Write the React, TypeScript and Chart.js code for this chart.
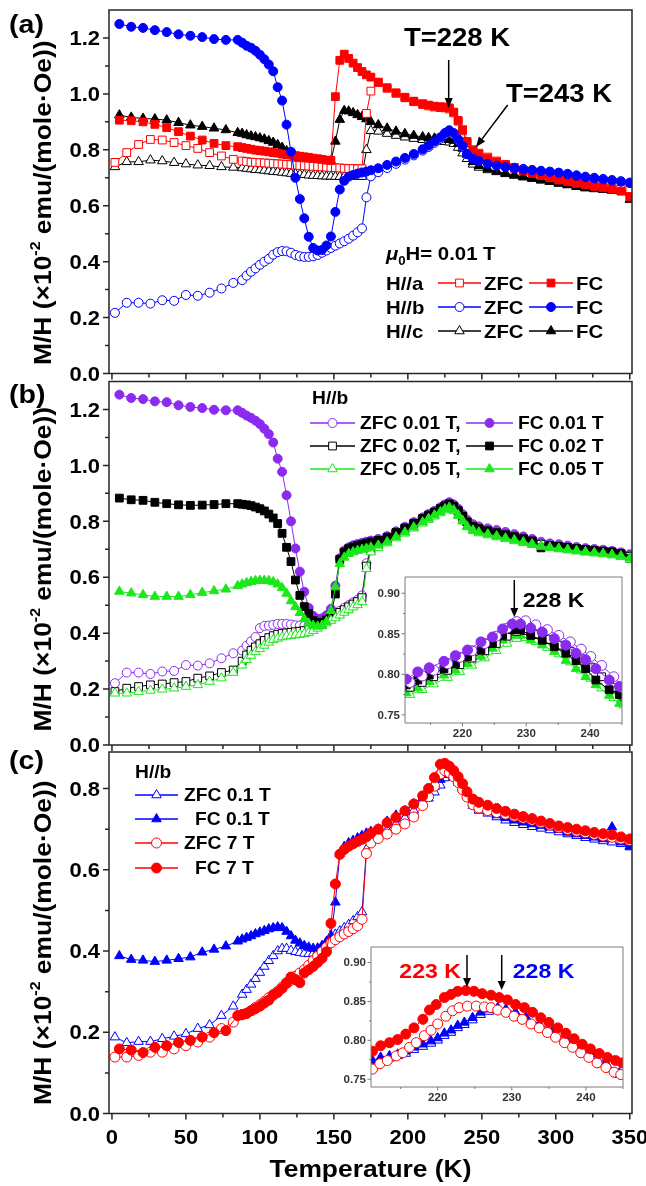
import React, { useEffect, useRef } from 'react';
import { Chart, registerables } from 'chart.js';

Chart.register(...registerables);

// ---------------- DATA ----------------
// temperature grids (K)
const T_LOW_ZFC = [2, 10, 18, 26, 34, 42, 50, 58, 66, 74, 82];
const T_LOW_FC = [5, 13, 21, 29, 37, 45, 53, 61, 69, 77, 85];
const T_REST = [88, 91, 94, 97, 100, 103, 106, 109, 112, 115, 118, 121, 124, 127, 130, 133, 136, 139, 142, 145,
  148, 151, 154, 157, 160, 163, 166, 169, 172, 175,
  180, 186, 192, 198, 204, 210, 214, 218, 222, 225, 228, 231, 234, 237, 240, 244, 248, 254, 260, 266,
  272, 278, 284, 290, 296, 302, 308, 314, 320, 326, 332, 338, 344, 350];

// Panel (a): mu0H = 0.01 T, H//a, H//b, H//c
const A_ZFC = [0.755, 0.790, 0.819, 0.837, 0.835, 0.826, 0.815, 0.805, 0.790, 0.778, 0.766,
  0.760, 0.758, 0.756, 0.755, 0.754, 0.753, 0.752, 0.751, 0.750, 0.749, 0.748, 0.747, 0.745, 0.744, 0.743, 0.742, 0.741, 0.740, 0.739, 0.738,
  0.737, 0.736, 0.735, 0.734, 0.733, 0.733, 0.732, 0.732, 0.930, 1.010,
  1.040, 1.020, 1.002, 0.986, 0.972, 0.962, 0.957, 0.953, 0.951, 0.950, 0.946, 0.932, 0.902, 0.868, 0.826, 0.800, 0.788, 0.774, 0.760, 0.748,
  0.737, 0.727, 0.719, 0.710, 0.703, 0.696, 0.690, 0.684, 0.679, 0.673, 0.668, 0.663, 0.659, 0.655];
const A_FC = [0.906, 0.904, 0.900, 0.891, 0.879, 0.865, 0.849, 0.835, 0.823, 0.815, 0.811,
  0.808, 0.805, 0.802, 0.799, 0.797, 0.795, 0.793, 0.790, 0.788, 0.785, 0.783, 0.781, 0.779, 0.777, 0.775, 0.773, 0.770, 0.768, 0.766, 0.763,
  0.762, 0.990, 1.120, 1.142, 1.127, 1.110, 1.094, 1.080, 1.068, 1.060,
  1.042, 1.022, 1.004, 0.988, 0.974, 0.965, 0.960, 0.956, 0.954, 0.953, 0.950, 0.935, 0.905, 0.872, 0.830, 0.799, 0.785, 0.770, 0.757, 0.744,
  0.734, 0.724, 0.716, 0.708, 0.700, 0.692, 0.686, 0.680, 0.675, 0.669, 0.664, 0.659, 0.652, 0.633];
const B_ZFC = [0.217, 0.253, 0.253, 0.250, 0.262, 0.260, 0.281, 0.278, 0.289, 0.304, 0.324,
  0.334, 0.350, 0.364, 0.376, 0.389, 0.400, 0.410, 0.425, 0.434, 0.438, 0.437, 0.432, 0.424, 0.419, 0.417, 0.417, 0.419, 0.424, 0.432, 0.440,
  0.449, 0.457, 0.465, 0.473, 0.482, 0.493, 0.505, 0.519, 0.630, 0.705,
  0.720, 0.735, 0.750, 0.765, 0.780, 0.797, 0.810, 0.825, 0.840, 0.855, 0.865, 0.855, 0.835, 0.812, 0.784, 0.770, 0.763, 0.754, 0.747, 0.741,
  0.736, 0.732, 0.728, 0.725, 0.722, 0.718, 0.714, 0.709, 0.704, 0.700, 0.696, 0.692, 0.688, 0.683];
const B_FC = [1.250, 1.240, 1.236, 1.228, 1.221, 1.213, 1.208, 1.203, 1.196, 1.193, 1.193,
  1.183, 1.172, 1.165, 1.154, 1.140, 1.124, 1.105, 1.081, 1.024, 0.976, 0.890, 0.793, 0.700, 0.624, 0.555, 0.489, 0.449, 0.440, 0.442, 0.458,
  0.490, 0.578, 0.658, 0.689, 0.704, 0.710, 0.715, 0.719, 0.722, 0.727,
  0.734, 0.746, 0.758, 0.771, 0.785, 0.802, 0.815, 0.830, 0.845, 0.860, 0.870, 0.860, 0.838, 0.815, 0.785, 0.768, 0.760, 0.750, 0.743, 0.738,
  0.734, 0.730, 0.727, 0.724, 0.721, 0.718, 0.713, 0.707, 0.702, 0.698, 0.694, 0.690, 0.686, 0.681];
const C_ZFC = [0.739, 0.757, 0.757, 0.763, 0.760, 0.754, 0.749, 0.745, 0.743, 0.739, 0.737,
  0.735, 0.733, 0.731, 0.729, 0.728, 0.726, 0.724, 0.722, 0.721, 0.719, 0.717, 0.715, 0.714, 0.712, 0.711, 0.709, 0.708, 0.707, 0.706, 0.705,
  0.705, 0.704, 0.704, 0.704, 0.704, 0.704, 0.704, 0.704, 0.800, 0.868,
  0.866, 0.858, 0.851, 0.845, 0.840, 0.836, 0.834, 0.832, 0.830, 0.829, 0.827, 0.822, 0.808, 0.788, 0.768, 0.748, 0.737, 0.728, 0.721, 0.714,
  0.708, 0.702, 0.697, 0.691, 0.686, 0.680, 0.675, 0.669, 0.664, 0.660, 0.657, 0.654, 0.660, 0.648];
const C_FC = [0.924, 0.916, 0.912, 0.910, 0.906, 0.897, 0.888, 0.883, 0.877, 0.871, 0.861,
  0.858, 0.853, 0.849, 0.846, 0.842, 0.838, 0.832, 0.826, 0.818, 0.808, 0.796, 0.783, 0.774, 0.770, 0.767, 0.765, 0.763, 0.760, 0.758, 0.756,
  0.760, 0.830, 0.908, 0.940, 0.938, 0.932, 0.925, 0.918, 0.910, 0.900,
  0.889, 0.877, 0.866, 0.857, 0.851, 0.846, 0.843, 0.841, 0.840, 0.838, 0.836, 0.833, 0.822, 0.805, 0.783, 0.757, 0.743, 0.732, 0.723, 0.716,
  0.710, 0.704, 0.698, 0.692, 0.686, 0.680, 0.674, 0.668, 0.663, 0.662, 0.660, 0.657, 0.655, 0.622];

// Panel (b): H//b, 0.01 T / 0.02 T / 0.05 T
const P1_ZFC = [0.221, 0.259, 0.259, 0.254, 0.263, 0.265, 0.286, 0.284, 0.292, 0.310, 0.328,
  0.338, 0.355, 0.371, 0.386, 0.418, 0.426, 0.427, 0.430, 0.433, 0.433, 0.433, 0.431, 0.428, 0.427, 0.426, 0.429, 0.435, 0.444, 0.450, 0.455,
  0.464, 0.472, 0.480, 0.491, 0.500, 0.510, 0.519, 0.535, 0.650, 0.705,
  0.720, 0.740, 0.758, 0.776, 0.793, 0.811, 0.823, 0.835, 0.848, 0.858, 0.866, 0.860, 0.845, 0.826, 0.806, 0.790, 0.782, 0.775, 0.769, 0.762,
  0.754, 0.746, 0.737, 0.727, 0.721, 0.718, 0.713, 0.708, 0.704, 0.701, 0.698, 0.694, 0.689, 0.682];
const P1_FC = [1.253, 1.241, 1.237, 1.229, 1.226, 1.215, 1.209, 1.205, 1.199, 1.197, 1.197,
  1.188, 1.178, 1.170, 1.160, 1.148, 1.131, 1.112, 1.082, 1.024, 0.977, 0.893, 0.800, 0.703, 0.620, 0.548, 0.490, 0.462, 0.451, 0.453, 0.464,
  0.487, 0.570, 0.668, 0.695, 0.707, 0.714, 0.719, 0.723, 0.727, 0.731,
  0.737, 0.747, 0.764, 0.780, 0.797, 0.814, 0.826, 0.837, 0.850, 0.860, 0.868, 0.859, 0.843, 0.823, 0.803, 0.787, 0.779, 0.772, 0.766, 0.760,
  0.752, 0.744, 0.735, 0.724, 0.719, 0.716, 0.711, 0.706, 0.702, 0.699, 0.696, 0.692, 0.687, 0.680];
const P2_ZFC = [0.191, 0.203, 0.209, 0.215, 0.218, 0.223, 0.227, 0.239, 0.247, 0.259, 0.268,
  0.300, 0.322, 0.338, 0.351, 0.362, 0.374, 0.384, 0.391, 0.396, 0.399, 0.401, 0.403, 0.405, 0.407, 0.409, 0.413, 0.420, 0.429, 0.438, 0.447,
  0.456, 0.465, 0.474, 0.484, 0.494, 0.504, 0.513, 0.527, 0.640, 0.698,
  0.714, 0.735, 0.754, 0.772, 0.789, 0.806, 0.818, 0.830, 0.842, 0.852, 0.859, 0.851, 0.836, 0.817, 0.797, 0.781, 0.774, 0.766, 0.759, 0.752,
  0.745, 0.738, 0.730, 0.718, 0.713, 0.710, 0.706, 0.702, 0.699, 0.696, 0.693, 0.690, 0.685, 0.675];
const P2_FC = [0.883, 0.877, 0.875, 0.868, 0.863, 0.859, 0.857, 0.858, 0.860, 0.863, 0.863,
  0.861, 0.859, 0.856, 0.851, 0.845, 0.837, 0.826, 0.812, 0.792, 0.757, 0.707, 0.656, 0.590, 0.535, 0.495, 0.470, 0.445, 0.437, 0.437, 0.446,
  0.466, 0.540, 0.664, 0.690, 0.702, 0.708, 0.713, 0.717, 0.722, 0.726,
  0.732, 0.743, 0.760, 0.776, 0.793, 0.810, 0.822, 0.833, 0.845, 0.855, 0.862, 0.853, 0.838, 0.818, 0.797, 0.780, 0.772, 0.765, 0.758, 0.751,
  0.744, 0.736, 0.728, 0.705, 0.712, 0.710, 0.706, 0.702, 0.699, 0.696, 0.693, 0.690, 0.684, 0.668];
const P3_ZFC = [0.185, 0.185, 0.191, 0.195, 0.199, 0.203, 0.209, 0.215, 0.227, 0.239, 0.259,
  0.285, 0.305, 0.320, 0.333, 0.344, 0.356, 0.367, 0.376, 0.381, 0.386, 0.389, 0.391, 0.393, 0.395, 0.397, 0.402, 0.409, 0.417, 0.426, 0.436,
  0.445, 0.454, 0.464, 0.474, 0.483, 0.493, 0.501, 0.512, 0.630, 0.690,
  0.705, 0.722, 0.740, 0.757, 0.775, 0.793, 0.806, 0.818, 0.830, 0.840, 0.846, 0.837, 0.820, 0.800, 0.780, 0.766, 0.758, 0.751, 0.744, 0.737,
  0.730, 0.723, 0.716, 0.710, 0.705, 0.701, 0.697, 0.693, 0.689, 0.686, 0.683, 0.679, 0.673, 0.664];
const P3_FC = [0.549, 0.543, 0.537, 0.531, 0.531, 0.531, 0.537, 0.545, 0.551, 0.557, 0.569,
  0.575, 0.580, 0.584, 0.587, 0.588, 0.588, 0.587, 0.583, 0.575, 0.562, 0.542, 0.515, 0.494, 0.473, 0.451, 0.435, 0.427, 0.424, 0.427, 0.441,
  0.480, 0.565, 0.648, 0.671, 0.684, 0.690, 0.695, 0.699, 0.703, 0.707,
  0.714, 0.726, 0.744, 0.761, 0.779, 0.797, 0.810, 0.822, 0.834, 0.844, 0.850, 0.840, 0.823, 0.803, 0.782, 0.768, 0.761, 0.754, 0.747, 0.740,
  0.733, 0.726, 0.719, 0.712, 0.707, 0.703, 0.699, 0.695, 0.691, 0.688, 0.685, 0.681, 0.676, 0.668];

// Panel (c): H//b, 0.1 T / 7 T
const Q1_ZFC = [0.188, 0.174, 0.177, 0.177, 0.184, 0.190, 0.196, 0.209, 0.218, 0.241, 0.264,
  0.293, 0.305, 0.318, 0.332, 0.347, 0.362, 0.376, 0.388, 0.400, 0.406, 0.406, 0.401, 0.398, 0.396, 0.394, 0.393, 0.394, 0.399, 0.410, 0.423,
  0.432, 0.441, 0.449, 0.457, 0.465, 0.474, 0.484, 0.496, 0.650, 0.670,
  0.682, 0.698, 0.713, 0.728, 0.746, 0.764, 0.776, 0.791, 0.808, 0.826, 0.836, 0.828, 0.815, 0.799, 0.783, 0.758, 0.746, 0.739, 0.730, 0.722,
  0.716, 0.711, 0.706, 0.702, 0.698, 0.693, 0.688, 0.684, 0.679, 0.675, 0.671, 0.668, 0.664, 0.658];
const Q1_FC = [0.388, 0.379, 0.377, 0.374, 0.377, 0.381, 0.385, 0.397, 0.404, 0.412, 0.424,
  0.429, 0.433, 0.437, 0.442, 0.446, 0.450, 0.454, 0.457, 0.459, 0.457, 0.448, 0.437, 0.426, 0.419, 0.413, 0.409, 0.406, 0.407, 0.413, 0.422,
  0.438, 0.520, 0.640, 0.657, 0.666, 0.672, 0.678, 0.684, 0.690, 0.694,
  0.700, 0.719, 0.734, 0.745, 0.762, 0.777, 0.790, 0.804, 0.822, 0.834, 0.840, 0.832, 0.819, 0.803, 0.787, 0.762, 0.752, 0.745, 0.735, 0.728,
  0.722, 0.717, 0.713, 0.709, 0.705, 0.699, 0.692, 0.688, 0.684, 0.680, 0.676, 0.705, 0.668, 0.656];
const Q2_ZFC = [0.139, 0.139, 0.143, 0.151, 0.151, 0.159, 0.167, 0.176, 0.188, 0.209, 0.225,
  0.243, 0.247, 0.253, 0.261, 0.268, 0.276, 0.285, 0.293, 0.301, 0.311, 0.320, 0.328, 0.338, 0.346, 0.354, 0.365, 0.376, 0.387, 0.398, 0.409,
  0.420, 0.428, 0.435, 0.442, 0.448, 0.455, 0.462, 0.478, 0.640, 0.666,
  0.677, 0.688, 0.700, 0.713, 0.730, 0.758, 0.780, 0.806, 0.836, 0.844, 0.839, 0.829, 0.815, 0.797, 0.779, 0.760, 0.752, 0.746, 0.741, 0.737,
  0.732, 0.727, 0.722, 0.716, 0.710, 0.704, 0.699, 0.695, 0.691, 0.687, 0.683, 0.680, 0.676, 0.672];
const Q2_FC = [0.159, 0.156, 0.150, 0.163, 0.167, 0.175, 0.180, 0.188, 0.199, 0.204, 0.241,
  0.244, 0.246, 0.253, 0.258, 0.264, 0.272, 0.279, 0.291, 0.298, 0.308, 0.322, 0.336, 0.330, 0.322, 0.346, 0.354, 0.362, 0.372, 0.382, 0.398,
  0.468, 0.565, 0.638, 0.650, 0.658, 0.664, 0.670, 0.675, 0.681, 0.690,
  0.700, 0.716, 0.729, 0.745, 0.762, 0.782, 0.800, 0.827, 0.860, 0.862, 0.855, 0.844, 0.829, 0.812, 0.792, 0.774, 0.766, 0.759, 0.751, 0.744,
  0.737, 0.731, 0.726, 0.720, 0.714, 0.708, 0.704, 0.700, 0.696, 0.692, 0.689, 0.686, 0.681, 0.676];

// Inset of panel (b)
const TB_FC = [211.2, 213.0, 214.8, 217.1, 218.9, 220.8, 222.9, 224.7, 226.3, 227.8, 229.1, 230.7, 232.5, 234.4, 236.2, 237.8, 239.3, 240.9, 243.0, 244.6];
const TB_ZFC = [211.8, 213.7, 215.5, 217.7, 219.6, 221.5, 223.5, 225.3, 227.0, 228.5, 229.9, 231.5, 233.3, 235.1, 236.9, 238.6, 240.1, 241.8, 243.7, 245.3];
const IB_P1_FC = [0.794, 0.803, 0.808, 0.816, 0.823, 0.830, 0.840, 0.846, 0.856, 0.862, 0.862, 0.857, 0.852, 0.844, 0.836, 0.826, 0.818, 0.807, 0.793, 0.785];
const IB_P1_ZFC = [0.790, 0.798, 0.805, 0.813, 0.821, 0.829, 0.838, 0.847, 0.857, 0.865, 0.866, 0.861, 0.855, 0.848, 0.840, 0.831, 0.822, 0.811, 0.797, 0.783];
const IB_P2_FC = [0.787, 0.793, 0.799, 0.807, 0.813, 0.822, 0.830, 0.838, 0.848, 0.855, 0.855, 0.848, 0.842, 0.834, 0.826, 0.817, 0.807, 0.793, 0.781, 0.775];
const IB_P2_ZFC = [0.784, 0.790, 0.797, 0.805, 0.812, 0.820, 0.829, 0.838, 0.847, 0.853, 0.854, 0.849, 0.843, 0.836, 0.828, 0.819, 0.809, 0.797, 0.784, 0.773];
const IB_P3_FC = [0.777, 0.783, 0.791, 0.799, 0.805, 0.813, 0.822, 0.832, 0.842, 0.848, 0.848, 0.842, 0.836, 0.828, 0.817, 0.807, 0.797, 0.787, 0.774, 0.764];
const IB_P3_ZFC = [0.775, 0.781, 0.788, 0.796, 0.803, 0.811, 0.820, 0.829, 0.838, 0.844, 0.845, 0.840, 0.833, 0.825, 0.815, 0.805, 0.795, 0.783, 0.771, 0.762];

// Inset of panel (c)
const TC_RFC = [211.2, 212.3, 213.5, 214.6, 215.7, 216.8, 218.0, 218.9, 219.8, 220.9, 221.8, 222.7, 223.8, 224.9, 226.0, 227.2,
  228.3, 229.4, 230.5, 231.7, 232.8, 233.9, 235.0, 236.2, 237.3, 238.4, 239.5, 240.6, 241.8, 242.9, 244.0, 244.9];
const IC_RFC = [0.786, 0.793, 0.797, 0.801, 0.808, 0.816, 0.827, 0.839, 0.846, 0.855, 0.859, 0.863, 0.864, 0.863, 0.860, 0.858,
  0.855, 0.852, 0.846, 0.842, 0.836, 0.829, 0.823, 0.816, 0.809, 0.802, 0.795, 0.789, 0.783, 0.778, 0.774, 0.771];
const TC_RZFC = [211.2, 212.2, 213.2, 214.4, 215.3, 216.2, 217.1, 218.2, 219.1, 220.0, 221.1, 222.0, 222.9, 224.0, 225.2, 226.3, 227.2,
  228.1, 229.2, 230.3, 231.4, 232.6, 233.7, 234.8, 235.9, 237.1, 238.2, 239.3, 240.4, 241.5, 242.7, 243.8, 244.7];
const IC_RZFC = [0.763, 0.770, 0.774, 0.780, 0.784, 0.791, 0.797, 0.806, 0.813, 0.821, 0.831, 0.838, 0.842, 0.844, 0.844, 0.843, 0.842,
  0.839, 0.836, 0.831, 0.827, 0.821, 0.816, 0.810, 0.804, 0.797, 0.791, 0.784, 0.778, 0.771, 0.765, 0.759, 0.756];
const TC_B = [211.2, 212.3, 213.5, 214.6, 215.7, 216.8, 218.0, 219.1, 220.0, 220.9, 221.8, 222.7, 223.6, 224.7, 225.8, 226.9,
  228.1, 229.2, 230.5, 231.9, 233.7, 235.5, 237.3, 239.1, 240.9, 242.7, 244.5];
const IC_BFC = [0.774, 0.778, 0.780, 0.782, 0.786, 0.791, 0.795, 0.799, 0.803, 0.809, 0.813, 0.819, 0.823, 0.829, 0.836, 0.840,
  0.842, 0.840, 0.836, 0.830, 0.821, 0.812, 0.801, 0.792, 0.782, 0.771, 0.758];
const IC_BZFC = [0.771, 0.775, 0.777, 0.780, 0.783, 0.788, 0.792, 0.796, 0.800, 0.806, 0.810, 0.816, 0.820, 0.826, 0.833, 0.837,
  0.840, 0.838, 0.834, 0.828, 0.819, 0.810, 0.799, 0.790, 0.780, 0.769, 0.756];

// tick values
const X_MAJOR = [0, 50, 100, 150, 200, 250, 300, 350];
const X_MINOR = [25, 75, 125, 175, 225, 275, 325];
const Y_MAJOR_AB = [0, 0.2, 0.4, 0.6, 0.8, 1.0, 1.2];
const Y_MINOR_AB = [0.1, 0.3, 0.5, 0.7, 0.9, 1.1];
const Y_MAJOR_C = [0, 0.2, 0.4, 0.6, 0.8];
const Y_MINOR_C = [0.1, 0.3, 0.5, 0.7];
const IN_X_MAJOR = [220, 230, 240];
const IN_X_MINOR = [215, 225, 235, 245];
const IN_Y_MAJOR = [0.75, 0.8, 0.85, 0.9];
const IN_Y_MINOR = [0.775, 0.825, 0.875];

// ---------------- STYLE ----------------
const W = 646;
const H = 1186;
const SX = 1.1;
const FF = '"Liberation Sans", Arial, Helvetica, sans-serif';
const RED = '#FF0000';
const BLUE = '#0000FF';
const BLACK = '#000000';
const PURPLE = '#8B2BF0';
const GREEN = '#1BE81B';
const AXIS = '#262626';

type Mk = 'circle' | 'rect' | 'triangle';

const ZX = [...T_LOW_ZFC, ...T_REST];
const FX = [...T_LOW_FC, ...T_REST];

function ds(xs: number[], ys: number[], color: string, mk: Mk, filled: boolean, r: number) {
  return {
    data: xs.map((x, i) => ({ x, y: ys[i] })),
    borderColor: color,
    backgroundColor: filled ? color : '#FFFFFF',
    borderWidth: 1,
    pointStyle: mk,
    pointRadius: r,
    pointBorderWidth: 1,
    pointBorderColor: color,
    pointBackgroundColor: filled ? color : '#FFFFFF',
    tension: 0,
    fill: false,
  };
}

function font(size: number, italic = false) {
  return `${italic ? 'italic ' : ''}bold ${size}px ${FF}`;
}

type Seg = { t: string; size: number; dy?: number; italic?: boolean; color?: string };

function rich(ctx: CanvasRenderingContext2D, segs: Seg[], x: number, yc: number, align: 'left' | 'center' | 'right', rot = 0) {
  ctx.save();
  ctx.translate(x, yc);
  if (rot) ctx.rotate(rot);
  ctx.scale(SX, 1);
  ctx.textBaseline = 'alphabetic';
  ctx.textAlign = 'left';
  const base = segs[0].size * 0.36;
  let total = 0;
  const ws = segs.map((s) => {
    ctx.font = font(s.size, s.italic);
    const w = ctx.measureText(s.t).width;
    total += w;
    return w;
  });
  let cx = align === 'left' ? 0 : align === 'center' ? -total / 2 : -total;
  segs.forEach((s, i) => {
    ctx.font = font(s.size, s.italic);
    ctx.fillStyle = s.color || '#000';
    ctx.fillText(s.t, cx, base + (s.dy || 0));
    cx += ws[i];
  });
  ctx.restore();
}

function txt(ctx: CanvasRenderingContext2D, t: string, x: number, yc: number, size: number, align: 'left' | 'center' | 'right' = 'left', color = '#000') {
  rich(ctx, [{ t, size, color }], x, yc, align);
}

function marker(ctx: CanvasRenderingContext2D, x: number, y: number, mk: Mk, r: number, color: string, filled: boolean) {
  ctx.beginPath();
  if (mk === 'circle') ctx.arc(x, y, r, 0, Math.PI * 2);
  else if (mk === 'rect') {
    const s = r * Math.SQRT1_2;
    ctx.rect(x - s, y - s, 2 * s, 2 * s);
  } else {
    ctx.moveTo(x, y - r);
    ctx.lineTo(x + 0.866 * r, y + 0.5 * r);
    ctx.lineTo(x - 0.866 * r, y + 0.5 * r);
    ctx.closePath();
  }
  ctx.fillStyle = filled ? color : '#FFFFFF';
  ctx.fill();
  ctx.lineWidth = 1;
  ctx.strokeStyle = color;
  ctx.stroke();
}

function sample(ctx: CanvasRenderingContext2D, x1: number, x2: number, y: number, color: string, mk: Mk, filled: boolean, r: number) {
  ctx.save();
  ctx.strokeStyle = color;
  ctx.lineWidth = 1.5;
  ctx.beginPath();
  ctx.moveTo(x1, y);
  ctx.lineTo(x2, y);
  ctx.stroke();
  marker(ctx, (x1 + x2) / 2, y, mk, r, color, filled);
  ctx.restore();
}

function arrow(ctx: CanvasRenderingContext2D, x1: number, y1: number, x2: number, y2: number, color = '#000', head = 10, hw = 4) {
  const ang = Math.atan2(y2 - y1, x2 - x1);
  const c = Math.cos(ang);
  const s = Math.sin(ang);
  ctx.save();
  ctx.strokeStyle = color;
  ctx.fillStyle = color;
  ctx.lineWidth = 1.5;
  ctx.beginPath();
  ctx.moveTo(x1, y1);
  ctx.lineTo(x2 - c * head * 0.7, y2 - s * head * 0.7);
  ctx.stroke();
  ctx.beginPath();
  ctx.moveTo(x2, y2);
  ctx.lineTo(x2 - head * c + hw * s, y2 - head * s - hw * c);
  ctx.lineTo(x2 - head * c - hw * s, y2 - head * s + hw * c);
  ctx.closePath();
  ctx.fill();
  ctx.restore();
}

type AxOpts = {
  xMajor: number[]; xMinor: number[]; yMajor: number[]; yMinor: number[];
  xLabels: boolean; yDigits: number; size: number; maj: number; min: number;
  color: string; lw: number; labelColor: string; xDy: number; yDx: number;
};

function axes(chart: any, o: AxOpts) {
  const { ctx, chartArea: a } = chart;
  const xs = chart.scales.x;
  const ys = chart.scales.y;
  ctx.save();
  ctx.strokeStyle = o.color;
  ctx.lineWidth = o.lw;
  ctx.beginPath();
  ctx.rect(a.left, a.top, a.right - a.left, a.bottom - a.top);
  o.xMajor.forEach((v) => { const p = xs.getPixelForValue(v); ctx.moveTo(p, a.bottom); ctx.lineTo(p, a.bottom + o.maj); });
  o.xMinor.forEach((v) => { const p = xs.getPixelForValue(v); ctx.moveTo(p, a.bottom); ctx.lineTo(p, a.bottom + o.min); });
  o.yMajor.forEach((v) => { const p = ys.getPixelForValue(v); ctx.moveTo(a.left, p); ctx.lineTo(a.left - o.maj, p); });
  o.yMinor.forEach((v) => { const p = ys.getPixelForValue(v); ctx.moveTo(a.left, p); ctx.lineTo(a.left - o.min, p); });
  ctx.stroke();
  if (o.xLabels) o.xMajor.forEach((v) => txt(ctx, String(v), xs.getPixelForValue(v), a.bottom + o.xDy, o.size, 'center', o.labelColor));
  o.yMajor.forEach((v) => txt(ctx, v.toFixed(o.yDigits), a.left - o.yDx, ys.getPixelForValue(v), o.size, 'right', o.labelColor));
  ctx.restore();
}

const MAIN_AX = (xLabels: boolean, yMajor: number[], yMinor: number[]): AxOpts => ({
  xMajor: X_MAJOR, xMinor: X_MINOR, yMajor, yMinor, xLabels, yDigits: 1, size: 20,
  maj: 6, min: 4, color: AXIS, lw: 1.5, labelColor: '#000', xDy: 23.5, yDx: 9,
});
const INSET_AX: AxOpts = {
  xMajor: IN_X_MAJOR, xMinor: IN_X_MINOR, yMajor: IN_Y_MAJOR, yMinor: IN_Y_MINOR, xLabels: true, yDigits: 2, size: 10.5,
  maj: 3.5, min: 2, color: '#7A7A7A', lw: 1, labelColor: '#333', xDy: 10, yDx: 5,
};

function yTitle(ctx: CanvasRenderingContext2D, x: number, yc: number) {
  rich(ctx, [
    { t: 'M/H (×10', size: 24 },
    { t: '-2', size: 14.5, dy: -10.5 },
    { t: ' emu/(mole·Oe))', size: 24 },
  ], x, yc, 'center', -Math.PI / 2);
}

function config(datasets: any[], xr: number[], yr: number[], pad: any, draw: (c: any) => void, before?: (c: any) => void) {
  return {
    type: 'line',
    data: { datasets },
    options: {
      responsive: false,
      animation: false,
      devicePixelRatio: 1,
      events: [],
      layout: { padding: pad },
      scales: {
        x: { type: 'linear', min: xr[0], max: xr[1], display: false },
        y: { type: 'linear', min: yr[0], max: yr[1], display: false },
      },
      plugins: { legend: { display: false }, tooltip: { enabled: false } },
    },
    plugins: [{
      id: 'decor',
      beforeDatasetsDraw: (c: any) => { if (before) before(c); },
      afterDraw: (c: any) => draw(c),
    }],
  };
}

const X_RANGE = [-2, 351.5];
const PAD_X = { left: 109, right: 14 };

// ---------- panel (a) ----------
const makeA = () => config([
  ds(FX, B_FC, BLUE, 'circle', true, 4.5),
  ds(FX, A_FC, RED, 'rect', true, 5.5),
  ds(ZX, B_ZFC, BLUE, 'circle', false, 4.5),
  ds(ZX, A_ZFC, RED, 'rect', false, 5.5),
  ds(FX, C_FC, BLACK, 'triangle', true, 5.5),
  ds(ZX, C_ZFC, BLACK, 'triangle', false, 5.5),
], X_RANGE, [0, 1.3], { ...PAD_X, top: 10, bottom: H - 373.5 }, (c) => {
  const ctx = c.ctx;
  const a = c.chartArea;
  axes(c, MAIN_AX(false, Y_MAJOR_AB, Y_MINOR_AB));
  yTitle(ctx, 42, (a.top + a.bottom) / 2 + 11);
  txt(ctx, '(a)', 9, 24, 26);
  txt(ctx, 'T=228 K', 457, 37, 25, 'center');
  arrow(ctx, 448.7, 60, 448.7, 108);
  txt(ctx, 'T=243 K', 559, 93, 25, 'center');
  arrow(ctx, 507.7, 105, 476, 147);
  rich(ctx, [
    { t: 'μ', size: 18.5, italic: true },
    { t: '0', size: 12, dy: 5 },
    { t: 'H= 0.01 T', size: 18.5 },
  ], 386, 253, 'left');
  const rows: [string, string, Mk, number, number][] = [
    ['H//a', RED, 'rect', 5.5, 283],
    ['H//b', BLUE, 'circle', 4.5, 307],
    ['H//c', BLACK, 'triangle', 5.5, 331],
  ];
  rows.forEach(([lab, col, mk, r, y]) => {
    txt(ctx, lab, 386, y, 18.5);
    sample(ctx, 438, 481, y, col, mk, false, r);
    txt(ctx, 'ZFC', 484, y, 18.5);
    sample(ctx, 529, 573, y, col, mk, true, r);
    txt(ctx, 'FC', 576, y, 18.5);
  });
});

// ---------- panel (b) ----------
const makeB = () => config([
  ds(FX, P3_FC, GREEN, 'triangle', true, 5.5),
  ds(ZX, P3_ZFC, GREEN, 'triangle', false, 5.5),
  ds(FX, P2_FC, BLACK, 'rect', true, 5.5),
  ds(ZX, P2_ZFC, BLACK, 'rect', false, 5.5),
  ds(FX, P1_FC, PURPLE, 'circle', true, 4.5),
  ds(ZX, P1_ZFC, PURPLE, 'circle', false, 4.5),
], X_RANGE, [0, 1.3], { ...PAD_X, top: 381.5, bottom: H - 745 }, (c) => {
  const ctx = c.ctx;
  const a = c.chartArea;
  axes(c, MAIN_AX(false, Y_MAJOR_AB, Y_MINOR_AB));
  yTitle(ctx, 42, (a.top + a.bottom) / 2 + 6);
  txt(ctx, '(b)', 9, 394, 26);
  txt(ctx, 'H//b', 312, 398, 17.5);
  const rows: [string, string, string, Mk, number, number][] = [
    ['ZFC 0.01 T,', 'FC 0.01 T', PURPLE, 'circle', 4.5, 423],
    ['ZFC 0.02 T,', 'FC 0.02 T', BLACK, 'rect', 5.5, 446],
    ['ZFC 0.05 T,', 'FC 0.05 T', GREEN, 'triangle', 5.5, 469],
  ];
  rows.forEach(([z, f, col, mk, r, y]) => {
    sample(ctx, 310, 355, y, col, mk, false, r);
    txt(ctx, z, 360, y, 17.5);
    sample(ctx, 466, 513, y, col, mk, true, r);
    txt(ctx, f, 518, y, 17.5);
  });
});

// ---------- panel (c) ----------
const makeC = () => config([
  ds(FX, Q2_FC, RED, 'circle', true, 5),
  ds(ZX, Q2_ZFC, RED, 'circle', false, 5),
  ds(FX, Q1_FC, BLUE, 'triangle', true, 5.5),
  ds(ZX, Q1_ZFC, BLUE, 'triangle', false, 5.5),
], X_RANGE, [0, 0.89], { ...PAD_X, top: 752, bottom: H - 1113.5 }, (c) => {
  const ctx = c.ctx;
  const a = c.chartArea;
  axes(c, MAIN_AX(true, Y_MAJOR_C, Y_MINOR_C));
  yTitle(ctx, 42, (a.top + a.bottom) / 2 + 10);
  txt(ctx, '(c)', 9, 760, 26);
  txt(ctx, 'Temperature (K)', (a.left + a.right) / 2, 1168, 24, 'center');
  txt(ctx, 'H//b', 135, 772, 17.5);
  const rows: [string, number, string, Mk, boolean, number, number][] = [
    ['ZFC 0.1 T', 184, BLUE, 'triangle', false, 5.5, 795],
    ['FC 0.1 T', 195, BLUE, 'triangle', true, 5.5, 819],
    ['ZFC 7 T', 184, RED, 'circle', false, 5, 843],
    ['FC 7 T', 195, RED, 'circle', true, 5, 868],
  ];
  rows.forEach(([lab, tx, col, mk, filled, r, y]) => {
    sample(ctx, 135, 178, y, col, mk, filled, r);
    txt(ctx, lab, tx, y, 17.5);
  });
});

const whiteBox = (c: any) => {
  const a = c.chartArea;
  c.ctx.save();
  c.ctx.fillStyle = '#FFFFFF';
  c.ctx.fillRect(a.left, a.top, a.right - a.left, a.bottom - a.top);
  c.ctx.restore();
};

// ---------- inset (b) ----------
const makeIB = () => config([
  ds(TB_FC, IB_P1_FC, PURPLE, 'circle', true, 5),
  ds(TB_ZFC, IB_P1_ZFC, PURPLE, 'circle', false, 5),
  ds(TB_FC, IB_P2_FC, BLACK, 'rect', true, 5.5),
  ds(TB_ZFC, IB_P2_ZFC, BLACK, 'rect', false, 5.5),
  ds(TB_FC, IB_P3_FC, GREEN, 'triangle', true, 5.5),
  ds(TB_ZFC, IB_P3_ZFC, GREEN, 'triangle', false, 5.5),
], [211, 245], [0.74, 0.92], { left: 405, right: W - 622, top: 577, bottom: H - 723 }, (c) => {
  const ctx = c.ctx;
  axes(c, INSET_AX);
  arrow(ctx, 514.3, 580, 514.3, 617, '#000', 9, 4);
  txt(ctx, '228 K', 522.7, 599, 21);
}, whiteBox);

// ---------- inset (c) ----------
const makeIC = () => config([
  ds(TC_RFC, IC_RFC, RED, 'circle', true, 5),
  ds(TC_RZFC, IC_RZFC, RED, 'circle', false, 5),
  ds(TC_B, IC_BFC, BLUE, 'triangle', true, 5.5),
  ds(TC_B, IC_BZFC, BLUE, 'triangle', false, 5.5),
], [211, 245], [0.74, 0.92], { left: 371, right: W - 623, top: 947, bottom: H - 1087 }, (c) => {
  const ctx = c.ctx;
  axes(c, INSET_AX);
  txt(ctx, '223 K', 461, 970, 21, 'right', RED);
  arrow(ctx, 467, 955, 467, 987, '#000', 9, 4);
  txt(ctx, '228 K', 512.7, 970, 21, 'left', BLUE);
  arrow(ctx, 501.7, 955, 501.7, 990, '#000', 9, 4);
}, whiteBox);

function ChartCanvas({ make }: { make: () => any }) {
  const ref = useRef<HTMLCanvasElement>(null);
  useEffect(() => {
    const chart = new Chart(ref.current as HTMLCanvasElement, make() as any);
    return () => chart.destroy();
  }, [make]);
  return (
    <canvas
      ref={ref}
      width={W}
      height={H}
      style={{ position: 'absolute', left: 0, top: 0, width: W, height: H }}
    />
  );
}

export default function App() {
  return (
    <div style={{ position: 'absolute', left: 0, top: 0, width: W, height: H, background: '#FFFFFF', overflow: 'hidden' }}>
      <ChartCanvas make={makeA} />
      <ChartCanvas make={makeB} />
      <ChartCanvas make={makeC} />
      <ChartCanvas make={makeIB} />
      <ChartCanvas make={makeIC} />
    </div>
  );
}
